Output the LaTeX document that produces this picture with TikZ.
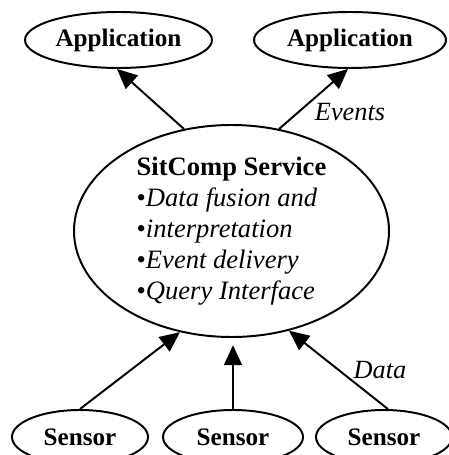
\documentclass[tikz,border=0pt]{standalone}
\usepackage{fontspec}
\setmainfont{Liberation Serif}
\usepackage{tikz}
\usetikzlibrary{shapes.geometric,arrows.meta}
\tikzset{
  comp/.style={ellipse, draw=black, line width=1.4pt, inner sep=0pt,
    minimum height=1.4cm, font=\fontsize{17.9}{21}\selectfont\bfseries},
  core/.style={ellipse, draw=black, line width=1.4pt, inner sep=0pt, align=left,
    minimum width=7.875cm, minimum height=5.3cm, font=\fontsize{18.9}{22}\selectfont},
  flow/.style={draw=black, line width=1.4pt, -{Triangle[length=0.5cm,width=0.45cm]}},
  lbl/.style={font=\fontsize{18.7}{22}\selectfont\itshape},
}

\begin{document}
\begin{tikzpicture}
  \useasboundingbox (0,0) rectangle (11.2,11.375);
  % applications
  \node[comp, minimum width=4.675cm] (appL) at (2.9625,10.375) {Application};
  \node[comp, minimum width=4.8cm]   (appR) at (8.75,10.375)   {Application};
  % service
  \node[core] (main) at (5.7875,5.6) {\textbf{SitComp Service}\\
    •\textit{Data fusion and}\\
    •\textit{interpretation}\\
    •\textit{Event delivery}\\
    •\textit{Query Interface}};
  % sensors
  \node[comp, minimum width=3.4cm, minimum height=1.35cm] (senL) at (2.0,0.45)   {Sensor};
  \node[comp, minimum width=3.5cm, minimum height=1.35cm] (senM) at (5.825,0.45) {Sensor};
  \node[comp, minimum width=3.4cm, minimum height=1.35cm] (senR) at (9.6,0.45)   {Sensor};
  % flows
  \draw[flow] (main.115) -- (appL.267);
  \draw[flow] (main.65) -- (appR.266);
  \draw[flow] (senL.north) -- (main.243);
  \draw[flow, shorten >=0.18cm] (senM.north) -- (senM.north |- main.south);
  \draw[flow] (senR.82) -- (main.300);
  \node[lbl] (events) at (8.75,8.575) {Events};
  \node[lbl] (data)   at (9.5,2.125)  {Data};
\end{tikzpicture}
\end{document}
